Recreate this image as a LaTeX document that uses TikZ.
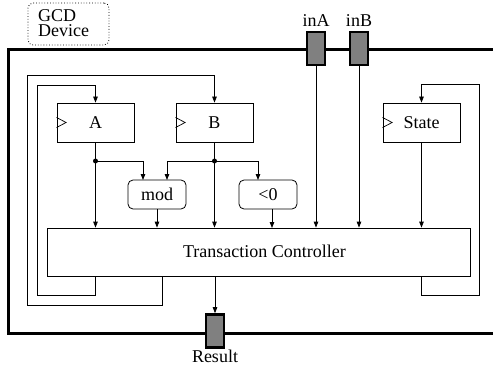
\documentclass[tikz,border=0pt]{standalone}
\usepackage{fontspec}
\setmainfont{Liberation Serif}
\usetikzlibrary{arrows.meta}
\begin{document}
\begin{tikzpicture}[x=1pt,y=-1pt,
  wire/.style={line width=0.8pt},
  arr/.style={wire,-{Triangle[length=6pt,width=4.5pt]}},
  reg/.style={draw,line width=0.8pt,minimum width=77pt,minimum height=39pt,inner sep=0pt},
  op/.style={draw,line width=0.8pt,rounded corners=5pt,minimum width=58pt,minimum height=29pt,inner sep=0pt},
  port/.style={draw,line width=2.6pt,fill=black!50,minimum width=18pt,minimum height=33pt,inner sep=0pt},
  txt/.style={font=\fontsize{18}{15.5}\selectfont},
  dotc/.style={circle,fill,inner sep=0pt,minimum size=5pt}]
\useasboundingbox (0,0) rectangle (493,369);
\fill[white] (0,0) rectangle (493,369);
% GCD device label
\node[draw,dotted,line width=0.8pt,rounded corners=5pt,minimum width=81pt,minimum height=42pt,inner sep=0pt] (gcdbox) at (68.5,24) {};
\node[txt,anchor=base west,inner sep=0pt] (gcdtxt) at (38,22) {GCD};
\node[txt,anchor=base west,inner sep=0pt] (devtxt) at (38,37) {Device};
% outer device boundary
\draw[line width=3pt] (493,50) -- (8,50) -- (8,333) -- (493,333);
% registers
\node[reg,txt] (A) at (95.5,122.5) {A};
\node[reg,txt] (B) at (214.5,122.5) {B};
\node[reg,txt] (S) at (421.5,122.5) {State};
\foreach \r in {A,B,S}{
  \draw[line width=0.7pt] ([yshift=5pt]\r.west) -- ++(9.5pt,-5pt) -- ([yshift=-5pt]\r.west);
}
% operators
\node[op,txt] (mod) at (157,194.5) {mod};
\node[op,txt] (lt) at (268,194.5) {<0};
% controller
\node[draw,line width=0.8pt,minimum width=423pt,minimum height=48pt,inner sep=0pt,txt] (ctrl) at (258.5,252) {};
\node[txt,inner sep=0pt] (ctrltxt) at (264.5,251) {Transaction Controller};
% ports
\node[port] (inA) at (316,48.5) {};
\node[port] (inB) at (359,48.5) {};
\node[port] (res) at (215,331) {};
\node[txt,anchor=base,inner sep=0pt] (inAl) at (316,27) {inA};
\node[txt,anchor=base,inner sep=0pt] (inBl) at (359,27) {inB};
\node[txt,anchor=base,inner sep=0pt] (resl) at (215,362) {Result};
% junctions
\coordinate (jA) at (95.5,161);
\coordinate (jB) at (214.5,161);
\node[dotc] (dA) at (jA) {};
\node[dotc] (dB) at (jB) {};
% A outputs
\draw[wire] (A.south) -- (jA);
\draw[arr] (jA) -- (jA |- ctrl.north);
\draw[arr] (jA) -| (143,180);
% B outputs
\draw[wire] (B.south) -- (jB);
\draw[arr] (jB) -- (jB |- ctrl.north);
\draw[arr] (jB) -| (167,180);
\draw[arr] (jB) -| (258,180);
% op outputs
\draw[arr] (mod.south) -- (mod.south |- ctrl.north);
\draw[arr] (272,209) -- (272,228);
% ports to controller
\draw[arr] (inA.south) -- (inA.south |- ctrl.north);
\draw[arr] (inB.south) -- (inB.south |- ctrl.north);
\draw[arr] (S.south) -- (S.south |- ctrl.north);
% controller to result
\draw[arr] (res.north |- ctrl.south) -- (res.north);
% feedback loops
\draw[arr] (A.south |- ctrl.south) -- (95.5,295) -- (37,295) -- (37,85) -- (95.5,85) -- (A.north);
\draw[arr] (162,276) -- (162,305) -- (27,305) -- (27,75) -- (214.5,75) -- (B.north);
\draw[arr] (S.south |- ctrl.south) -- (421.5,295) -- (479,295) -- (479,84) -- (421.5,84) -- (S.north);
\end{tikzpicture}
\end{document}
